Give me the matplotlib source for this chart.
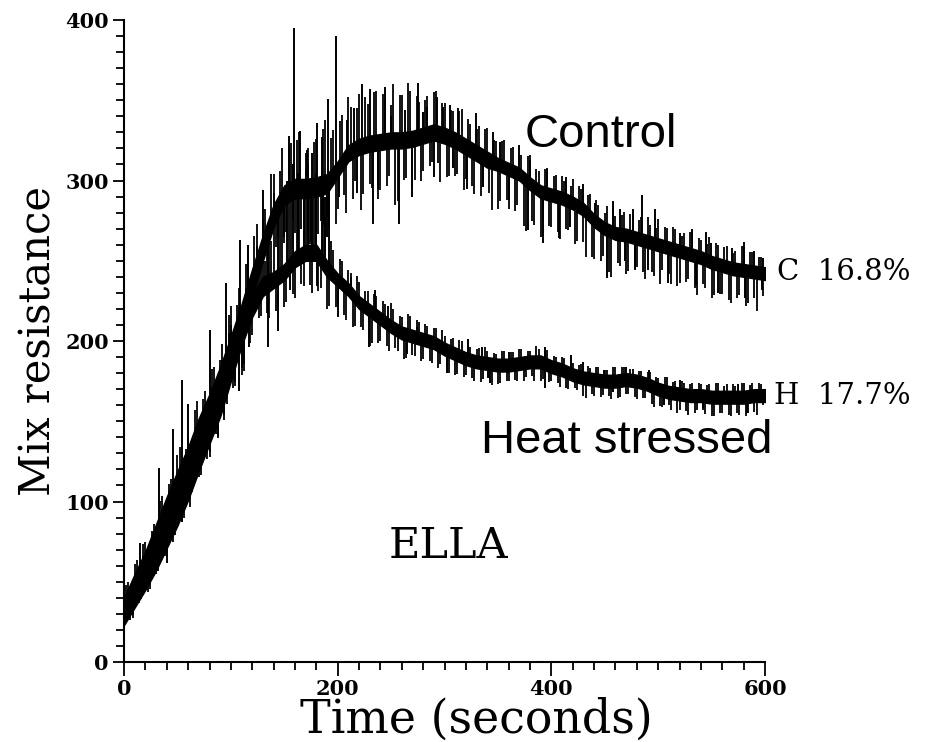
import numpy as np
import matplotlib
matplotlib.use("Agg")
import matplotlib.pyplot as plt
from matplotlib.ticker import MultipleLocator

# ---------------- data ----------------
time_s = list(range(0, 601, 10))

control_mid = [33, 47, 60, 76, 92, 107, 122, 140, 155, 172,
               192, 213, 236, 258, 278, 291, 295, 295, 296, 298,
               307, 317, 321, 323, 324, 325, 325, 326, 328, 330,
               328, 325, 321, 317, 313, 310, 307, 304, 298, 293,
               291, 289, 286, 282, 275, 270, 267, 266, 264, 262,
               260, 258, 256, 254, 252, 249, 247, 245, 244, 243, 242]

heat_mid = [30, 42, 54, 67, 82, 97, 113, 131, 148, 165,
            185, 205, 222, 234, 238, 243, 251, 255, 255, 245,
            238, 232, 224, 219, 214, 209, 205, 203, 201, 199,
            195, 192, 189, 187, 186, 185, 185, 186, 187, 187,
            184, 182, 179, 177, 176, 175, 175, 176, 175, 173,
            170, 168, 167, 166, 166, 165, 165, 165, 165, 166, 166]

# half thickness of the dense black core of each trace
control_half = [7, 8, 9, 10, 11, 12, 12, 12, 12, 12,
                11, 10, 9, 8, 7, 6, 6, 6, 6, 6,
                5, 5, 5, 5, 5, 5, 5, 5, 5, 5,
                5, 5, 5, 5, 5, 4, 4, 4, 4, 4,
                4, 4, 4, 4, 4, 4, 4, 4, 4, 4,
                4, 4, 4, 4, 4, 4, 4, 4, 4, 4, 4]
heat_half = [7, 8, 9, 10, 11, 12, 12, 12, 12, 12,
             10, 8, 7, 6, 5, 5, 5, 5, 5, 5,
             4, 4, 4, 4, 4, 4, 4, 4, 4, 4,
             4, 4, 4, 4, 4, 4, 4, 4, 4, 4,
             4, 4, 4, 4, 4, 4, 4, 4, 4, 4,
             4, 4, 4, 4, 4, 4, 4, 4, 4, 4, 4]

# fine oscillation of the traces: deviation from the mid line
osc_time_s = list(range(2, 600, 4))      # first set, t = 2, 6, ...
control_dev = [12, -10, 14, -12, 16, -13, 12, -16, 18, -12,
               16, -15, 22, -18, 14, -20, 24, -16, 18, -22,
               24, -18, 16, -26, 28, -20, 18, -30, 26, -22,
               25, -20, 18, -28, 30, -22, 20, -30, 28, -18,
               30, -25, 22, -35, 28, -30, 35, -20, 25, -32,
               28, -22, 35, -30, 25, -40, 30, -25, 32, -35,
               30, -28, 22, -40, 28, -25, 35, -30, 26, -28,
               22, -20, 25, -18, 20, -25, 18, -22, 20, -28,
               18, -22, 15, -25, 18, -20, 14, -28, 16, -20,
               14, -24, 12, -30, 16, -22, 12, -28, 15, -20,
               12, -22, 14, -18, 10, -25, 13, -20, 12, -24,
               14, -22, 10, -26, 15, -18, 12, -24, 14, -20,
               12, -20, 15, -18, 10, -24, 12, -16, 14, -22,
               10, -18, 14, -20, 12, -16, 10, -22, 13, -18,
               12, -20, 10, -18, 15, -22, 12, -16, 10, -14]
heat_dev = [10, -11, 12, -10, 14, -13, 11, -12, 15, -13,
            14, -16, 18, -15, 12, -20, 19, -16, 15, -18,
            20, -16, 18, -22, 24, -18, 16, -26, 21, -20,
            20, -15, 22, -18, 25, -20, 45, -22, 50, -20,
            48, -18, 52, -20, 45, -22, 40, -25, 20, -18,
            14, -18, 12, -20, 15, -14, 10, -22, 12, -16,
            12, -14, 15, -12, 10, -16, 13, -12, 11, -14,
            10, -12, 9, -14, 11, -10, 8, -13, 10, -12,
            9, -11, 8, -12, 10, -9, 7, -12, 9, -10,
            8, -10, 9, -11, 7, -9, 10, -12, 8, -10,
            7, -9, 8, -10, 9, -8, 7, -11, 8, -9,
            8, -10, 7, -9, 9, -11, 8, -9, 7, -10,
            7, -9, 8, -11, 7, -10, 9, -8, 7, -12,
            8, -10, 7, -11, 8, -9, 7, -12, 9, -10,
            7, -11, 8, -10, 9, -12, 7, -10, 8, -6]

osc2_time_s = list(range(0, 600, 4))     # second set, t = 0, 4, ...
control_dev2 = [-13, 11, -15, 14, -12, 15, -17, 13, -16, 18,
                -20, 16, -15, 24, -22, 18, -16, 26, -22, 20,
                -24, 22, -28, 22, -18, 30, -26, 24, -32, 28,
                -22, 28, -25, 20, -30, 26, -18, 32, -24, 30,
                -28, 35, -30, 25, -38, 30, -22, 40, -30, 28,
                -25, 30, -35, 28, -20, 33, -30, 25, -28, 32,
                -30, 25, -22, 35, -38, 28, -24, 30, -26, 22,
                -22, 24, -18, 26, -30, 20, -24, 18, -20, 22,
                -20, 16, -26, 18, -15, 20, -30, 14, -22, 17,
                -25, 15, -20, 13, -32, 18, -24, 12, -18, 16,
                -20, 13, -26, 11, -18, 15, -22, 12, -28, 14,
                -24, 12, -18, 15, -28, 11, -20, 14, -22, 13,
                -18, 14, -24, 11, -20, 16, -15, 12, -22, 13,
                -20, 12, -16, 14, -24, 11, -18, 15, -20, 12,
                -18, 13, -22, 11, -16, 14, -20, 12, -24, 10]
heat_dev2 = [-11, 10, -12, 13, -10, 12, -14, 11, -13, 15,
             -16, 14, -15, 19, -17, 16, -14, 21, -18, 17,
             -20, 18, -22, 19, -16, 25, -21, 20, -27, 23,
             -18, 20, -16, 15, -22, 40, -18, 42, -20, 46,
             -24, 44, -20, 50, -25, 38, -18, 30, -22, 16,
             -16, 14, -20, 12, -18, 13, -15, 11, -19, 12,
             -14, 11, -16, 12, -13, 10, -15, 12, -12, 10,
             -12, 9, -13, 10, -11, 8, -14, 9, -12, 10,
             -10, 8, -12, 9, -10, 8, -13, 7, -11, 9,
             -10, 8, -11, 9, -9, 7, -12, 8, -10, 9,
             -9, 7, -11, 8, -10, 7, -9, 8, -12, 7,
             -10, 8, -9, 7, -11, 9, -10, 8, -9, 7,
             -11, 7, -9, 8, -12, 7, -10, 9, -11, 8,
             -10, 7, -12, 8, -9, 7, -11, 8, -12, 9,
             -10, 8, -12, 7, -11, 9, -10, 8, -12, 7]

# isolated large spikes: time (s) and tip value
control_spike_t = [15, 33, 46, 54, 60, 80, 95, 109, 116, 124, 130, 140,
                   154, 159, 165, 171, 176, 181, 185, 191, 198, 209, 223, 230,
                   244, 263, 275, 284, 293, 299, 305, 313, 329, 352, 380, 396,
                   414, 441, 458, 464, 476, 497, 520, 532, 549, 569, 580, 598,
                   135, 144, 175, 190, 201, 218, 233, 238, 257, 270, 290, 308,
                   321, 336, 360, 378, 392, 407, 417, 452, 469, 478, 490, 509,
                   535, 556, 581, 597, 150, 168, 186, 215, 250, 280, 345, 370,
                   430, 485, 545, 590]
control_spike_v = [74, 121, 145, 176, 161, 207, 236, 263, 260, 259, 294, 292,
                   328, 395, 331, 319, 317, 336, 327, 351, 390, 338, 360, 357,
                   358, 344, 361, 346, 352, 346, 347, 345, 342, 324, 313, 307,
                   302, 286, 287, 282, 282, 282, 267, 270, 261, 258, 262, 252,
                   196, 206, 262, 265, 290, 292, 273, 295, 273, 290, 302, 308,
                   295, 296, 288, 269, 261, 264, 271, 239, 250, 245, 244, 236,
                   235, 230, 227, 232, 265, 270, 272, 345, 340, 343, 330, 322,
                   298, 291, 268, 256]

heat_spike_t = [27, 40, 54, 80, 92, 108, 117, 153, 158, 163, 168, 172,
                176, 180, 185, 188, 192, 155, 181, 200, 229, 247, 265, 274,
                302, 322, 335, 341, 343, 394, 394, 418, 449, 458, 491, 505,
                542, 583, 575, 520, 470, 430, 360, 235, 212]
heat_spike_v = [57, 62, 87, 140, 159, 169, 196, 300, 310, 305, 300, 310,
                296, 305, 298, 290, 300, 232, 234, 215, 196, 222, 192, 209,
                180, 201, 196, 177, 174, 196, 171, 191, 182, 168, 182, 160,
                158, 155, 173, 176, 184, 187, 193, 232, 240]

x_ticks = [0, 200, 400, 600]
y_ticks = [0, 100, 200, 300, 400]

# ---------------- figure ----------------
fig = plt.figure(figsize=(9.27, 7.42), dpi=100)
ax = fig.add_axes([0.1338, 0.1078, 0.6915, 0.8652])

t = np.array(time_s, dtype=float)


def spikes(times, tips, mid, lw):
    times = np.array(times, dtype=float)
    base = np.interp(times, t, mid)
    tips = np.array(tips, dtype=float)
    ax.vlines(times, np.minimum(base, tips), np.maximum(base, tips), color="black", lw=lw)


for mid, half, d1, d2, st, sv in [
        (control_mid, control_half, control_dev, control_dev2, control_spike_t, control_spike_v),
        (heat_mid, heat_half, heat_dev, heat_dev2, heat_spike_t, heat_spike_v)]:
    mid = np.array(mid, dtype=float)
    half = np.array(half, dtype=float)
    ax.fill_between(t, mid - half, mid + half, color="black", lw=1.0)
    ot = np.array(osc_time_s, dtype=float)
    spikes(ot, np.interp(ot, t, mid) + np.array(d1, dtype=float), mid, 1.3)
    ot2 = np.array(osc2_time_s, dtype=float)
    spikes(ot2, np.interp(ot2, t, mid) + np.array(d2, dtype=float), mid, 1.3)
    spikes(st, sv, mid, 1.4)

ax.set_xlim(0, 600)
ax.set_ylim(0, 400)
ax.set_xticks(x_ticks)
ax.set_yticks(y_ticks)
ax.xaxis.set_minor_locator(MultipleLocator(20))
ax.yaxis.set_minor_locator(MultipleLocator(10))
ax.tick_params(axis="x", which="major", direction="out", length=10, width=1.3, pad=2)
ax.tick_params(axis="x", which="minor", direction="out", length=6, width=1.3)
ax.tick_params(axis="y", which="major", direction="out", length=8, width=1.3, pad=3)
ax.tick_params(axis="y", which="minor", direction="out", length=6, width=1.3)
for spine in ["top", "right"]:
    ax.spines[spine].set_visible(False)
for spine in ["left", "bottom"]:
    ax.spines[spine].set_linewidth(1.5)

for lab in ax.get_xticklabels() + ax.get_yticklabels():
    lab.set_fontfamily("DejaVu Serif")
    lab.set_fontweight("bold")
    lab.set_fontsize(15)

ax.text(0.549, -0.1106, "Time (seconds)", transform=ax.transAxes,
        fontfamily="DejaVu Serif", fontsize=33, ha="center", va="baseline")
ax.set_ylabel("Mix resistance", fontfamily="DejaVu Serif", fontsize=30, labelpad=4)

ax.text(304, 65, "ELLA", fontfamily="DejaVu Serif", fontsize=31, ha="center", va="baseline")
ax.text(375, 321, "Control", fontfamily="Liberation Sans", fontsize=34, ha="left", va="baseline")
ax.text(334, 130, "Heat stressed", fontfamily="Liberation Sans", fontsize=34, ha="left", va="baseline")
ax.text(611, 243, "C  16.8%", fontfamily="DejaVu Serif", fontsize=21, ha="left", va="center", clip_on=False)
ax.text(608, 166, "H  17.7%", fontfamily="DejaVu Serif", fontsize=21, ha="left", va="center", clip_on=False)

fig.savefig("out.png", dpi=100)
